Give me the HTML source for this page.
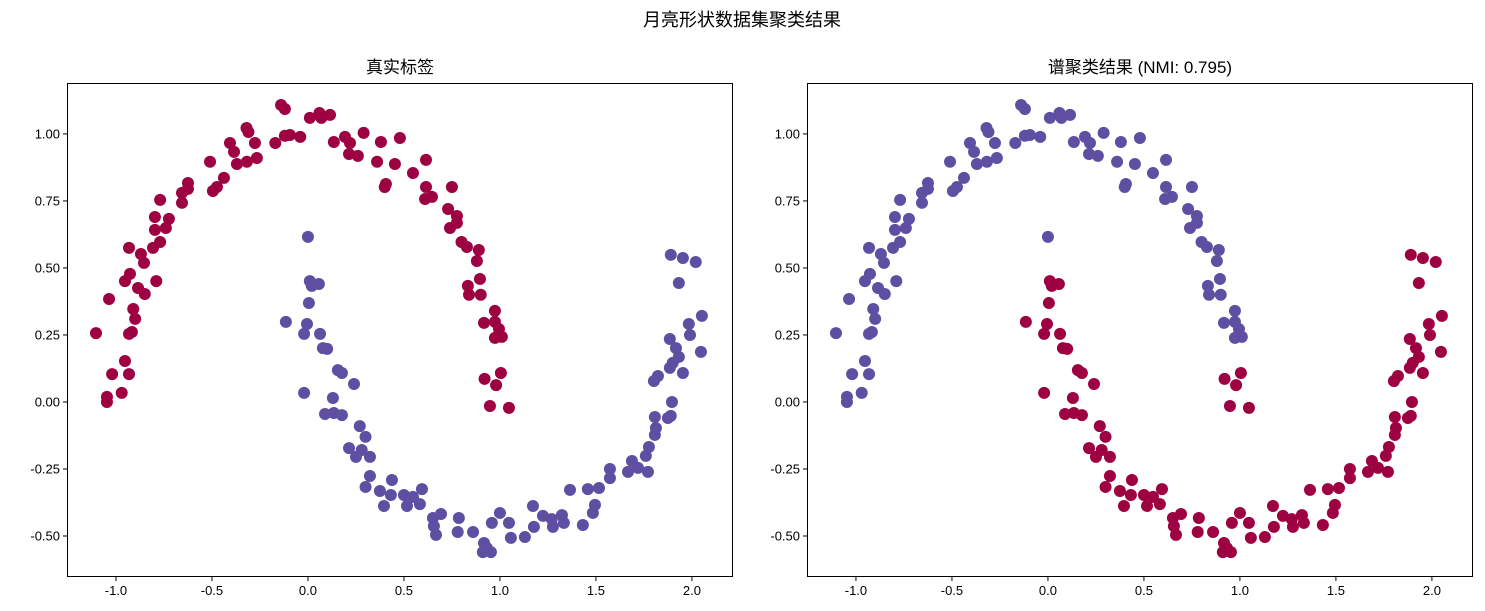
<!DOCTYPE html>
<html><head><meta charset="utf-8">
<style>
html,body{margin:0;padding:0;background:#fff;}
svg{display:block;font-family:"Liberation Sans","WenQuanYi Zen Hei","Noto Sans CJK SC",sans-serif;}
</style></head>
<body>
<svg id="chart" width="1485" height="611" viewBox="0 0 1485 611">
<text x="742" y="26" text-anchor="middle" font-size="18" fill="#000">月亮形状数据集聚类结果</text>
<text x="400" y="73" text-anchor="middle" font-size="17" fill="#000">真实标签</text>
<text x="1140" y="73" text-anchor="middle" font-size="17" fill="#000">谱聚类结果 (NMI: 0.795)</text>
</svg>
<script>
const xs=[-0.14,-0.12,0.01,0.06,0.07,0.115,-0.17,-0.12,-0.094,-0.04,-0.32,-0.31,-0.276,-0.406,-0.385,-0.51,-0.37,-0.318,-0.266,-0.625,-0.656,-0.656,-0.625,-0.4375,-0.474,-0.495,-0.77,-0.797,-0.724,-0.74,-0.797,-0.77,-0.807,-0.932,-0.87,-0.854,-0.927,-0.953,-0.79,-0.885,-0.85,-1.036,-0.91,-0.9,-1.104,-0.932,-0.917,-0.953,-1.02,-0.932,-0.97,-1.047,-1.047,0.135,0.193,0.219,0.214,0.26,0.29,0.38,0.479,0.36,0.453,0.406,0.40,0.615,0.547,0.615,0.646,0.61,0.75,0.73,0.776,0.776,0.74,0.80,0.828,0.89,0.88,0.896,0.833,0.839,0.90,0.974,0.917,0.974,0.995,0.974,1.01,1.005,0.92,0.98,0.948,1.047,
0.0,0.01,0.057,0.02,0.005,-0.115,-0.005,-0.02,0.063,0.078,0.10,0.156,0.177,0.24,-0.02,0.13,0.089,0.135,0.177,0.27,0.30,0.214,0.28,0.25,0.323,0.323,0.30,0.375,0.4375,0.432,0.396,0.5,0.547,0.516,0.583,0.594,0.651,0.693,0.656,0.667,0.786,0.78,0.86,0.917,0.911,0.953,0.932,0.958,1.0,1.047,1.057,1.13,1.172,1.177,1.224,1.27,1.276,1.323,1.333,1.365,1.432,1.458,1.484,1.495,1.516,1.573,1.573,1.667,1.6875,1.719,1.771,1.76,1.776,1.807,1.8125,1.807,1.875,1.89,1.896,1.802,1.823,1.885,1.90,1.932,1.917,1.885,1.953,2.047,1.99,1.984,2.052,1.932,1.89,1.953,2.02];
const ys=[1.108,1.093,1.06,1.078,1.06,1.071,0.966,0.993,0.996,0.989,1.022,1.007,0.966,0.966,0.933,0.896,0.888,0.896,0.91,0.817,0.78,0.743,0.795,0.836,0.802,0.787,0.754,0.69,0.683,0.649,0.642,0.597,0.575,0.575,0.552,0.519,0.478,0.451,0.451,0.425,0.403,0.384,0.347,0.31,0.257,0.254,0.261,0.153,0.104,0.104,0.034,0.019,0.0,0.97,0.989,0.966,0.925,0.918,1.004,0.97,0.985,0.896,0.888,0.813,0.802,0.903,0.854,0.802,0.765,0.757,0.802,0.72,0.694,0.668,0.649,0.597,0.578,0.567,0.526,0.459,0.433,0.4,0.4,0.34,0.295,0.299,0.272,0.239,0.243,0.108,0.086,0.063,-0.015,-0.022,
0.616,0.451,0.44,0.433,0.369,0.299,0.291,0.254,0.254,0.201,0.198,0.119,0.108,0.067,0.034,0.015,-0.045,-0.041,-0.049,-0.09,-0.13,-0.172,-0.179,-0.205,-0.205,-0.276,-0.317,-0.332,-0.291,-0.347,-0.388,-0.347,-0.354,-0.388,-0.381,-0.325,-0.433,-0.418,-0.463,-0.496,-0.433,-0.485,-0.485,-0.526,-0.56,-0.56,-0.545,-0.451,-0.414,-0.451,-0.507,-0.504,-0.388,-0.466,-0.425,-0.437,-0.466,-0.422,-0.451,-0.328,-0.459,-0.325,-0.414,-0.384,-0.321,-0.25,-0.284,-0.261,-0.22,-0.246,-0.261,-0.201,-0.168,-0.123,-0.097,-0.056,-0.06,-0.052,0.0,0.078,0.097,0.127,0.146,0.168,0.201,0.235,0.108,0.187,0.25,0.291,0.321,0.444,0.549,0.537,0.522];
const nUpper=94;
const trueLabels=xs.map((v,i)=>i<nUpper?0:1);
const predLabels=xs.map((v,i)=>i<89?1:(i<nUpper?0:(i===nUpper?1:0)));
const xTicks=[-1.0,-0.5,0.0,0.5,1.0,1.5,2.0];
const yTicks=[-0.50,-0.25,0.00,0.25,0.50,0.75,1.00];
const colors=["#9e0142","#5e4fa2"];
const NS="http://www.w3.org/2000/svg";
const svgEl=document.getElementById('chart');
function mk(tag,attrs,parent){const e=document.createElementNS(NS,tag);for(const k in attrs)e.setAttribute(k,attrs[k]);(parent||svgEl).appendChild(e);return e;}
const axTop=83,axBot=577,xmin=-1.255,xmax=2.214,ymin=-0.653,ymax=1.19;
function drawPanel(left,right,labels,name){
  const g=mk('g',{});
  
  
  const sx=v=>left+(v-xmin)/(xmax-xmin)*(right-left);
  const sy=v=>axBot-(v-ymin)/(ymax-ymin)*(axBot-axTop);
  for(let i=0;i<xs.length;i++){
    const c=mk('circle',{cx:sx(xs[i]),cy:sy(ys[i]),r:6,fill:colors[labels[i]]},g);
    
    
  }
  const fr=mk('rect',{x:left+0.5,y:axTop+0.5,width:right-left-1,height:axBot-axTop-1,fill:'none',stroke:'#000','stroke-width':1},g);
  
  
  xTicks.forEach(t=>{
    const x=sx(t);
    mk('line',{x1:x,x2:x,y1:axBot,y2:axBot+4,stroke:'#000'},g);
    const tx=mk('text',{x:x,y:axBot+18,'text-anchor':'middle','font-size':13},g);
    tx.textContent=t.toFixed(1);
    
    
  });
  yTicks.forEach(t=>{
    const y=sy(t);
    mk('line',{x1:left-4,x2:left,y1:y,y2:y,stroke:'#000'},g);
    const tx=mk('text',{x:left-7,y:y+4.5,'text-anchor':'end','font-size':13},g);
    tx.textContent=t.toFixed(2);
    
    
  });
}
drawPanel(67,733,trueLabels,'true-labels-panel');
drawPanel(807,1473,predLabels,'spectral-clustering-panel');
</script>
</body></html>
